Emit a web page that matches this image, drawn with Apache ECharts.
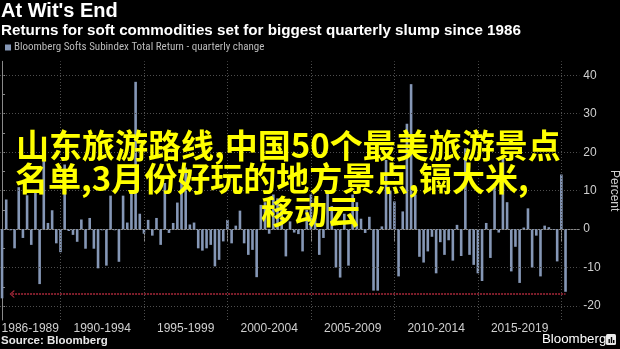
<!DOCTYPE html>
<html><head><meta charset="utf-8">
<script src="https://cdn.jsdelivr.net/npm/echarts@6/dist/echarts.min.js"></script>
<style>html,body{margin:0;padding:0;background:#000;}#c{width:620px;height:349px;}</style>
</head><body><div id="c"></div>
<script>
const titleText = "At Wit's End";
const subtitleText = "Returns for soft commodities set for biggest quarterly slump since 1986";
const seriesName = "Bloomberg Softs Subindex Total Return - quarterly change";
const sourceText = "Source: Bloomberg";
const firstYear = 1986, firstQ = 2;
const quarterlyChange = [
 -18.0, 7.7, -0.3, -5.0, 10.9, -2.3, 8.8, -4.1, 9.6, -14.3,
 20.6, 1.6, 4.9, -3.7, -6.0, 16.8, -0.5, -1.5, -3.3, 2.5,
 -5.1, 2.9, -5.1, -10.2, -0.3, -9.5, 8.7, -0.3, -8.5, 8.7,
 1.7, 10.0, 38.3, 4.0, -1.2, 2.4, -1.7, 2.9, -4.1, 12.0,
 -1.0, 1.6, 6.9, 14.0, 16.0, 1.2, 1.7, -5.0, -5.6, -5.0,
 -4.1, -9.7, -8.0, -3.2, 2.4, -3.7, 0.9, 4.8, -3.7, -6.7,
 -5.4, -12.5, 6.3, 7.0, -1.2, 9.0, 8.0, 6.0, -7.1, 2.0,
 -0.9, -1.3, -5.8, 5.0, 9.0, 8.0, -6.7, -2.3, 10.0, 6.0,
 -10.0, -12.6, 4.0, -9.5, 9.0, 7.0, 2.7, -1.0, 3.2, -16.0,
 -16.0, 0.7, 18.0, 10.0, 7.2, -12.3, 4.6, 27.4, 37.7, 9.0,
 -7.2, -8.7, -5.8, -2.0, -11.5, -3.4, -6.7, -2.9, -8.2, 1.1,
 -7.0, 21.0, -6.7, -9.3, -11.5, -13.5, 1.6, -7.5, 11.0, -0.9,
 18.7, 7.0, -11.0, -4.6, -14.0, 0.4, 5.4, -10.0, -1.7, -12.3,
 0.9, 0.5, -0.2, -8.4, 14.2, -16.3
];
const periodLabels = ['1986-1989','1990-1994','1995-1999','2000-2004','2005-2009','2010-2014','2015-2019'];
const yLabelValues = [-20,-10,0,10,20,30,40];
const yTickValues = [-20,-15,-10,-5,0,5,10,15,20,25,30,35,40];
const slumpLevel = -16.9;
const overlayLines = ["山东旅游路线,中国50个最美旅游景点", "名单,3月份好玩的地方景点,镉大米,", "移动云"];

// quarter names derived from start quarter
const quarters = quarterlyChange.map((v,i)=>{
  const n = (firstQ-1)+i; return (firstYear+Math.floor(n/4))+' Q'+((n%4)+1);
});
const xMin = -0.49, xMax = 138.3;
const yMin = -23.64, yMax = 43.64;
const boundaries = periodLabels.map(p => quarters.indexOf(p.split('-')[1]+' Q4'));
const labelPos = boundaries.map((b,i)=> ((i===0? xMin : boundaries[i-1]) + b)/2);

const FONT = '"Liberation Sans", Arial, sans-serif';
const gridColor = '#4e4e4e';
const gridLines = [];
boundaries.forEach(b => gridLines.push({xAxis: b}));
yLabelValues.forEach(v => gridLines.push({yAxis: v}));

const chart = echarts.init(document.getElementById('c'), null, {renderer:'canvas'});
chart.setOption({
  backgroundColor: '#000',
  animation: false,
  title: {
    text: titleText, subtext: subtitleText, left: 0, top: 0, padding: [1,0,0,1], itemGap: 2,
    textStyle: {color:'#fff', fontSize: 20, fontWeight:'bold', fontFamily: FONT},
    subtextStyle: {color:'#fff', fontSize: 15.2, fontWeight:'bold', fontFamily: FONT}
  },
  legend: {
    left: 5, top: 42, padding: 0, icon: 'rect', itemWidth: 6, itemHeight: 6, itemGap: 4,
    textStyle: {color:'#bbb', fontSize: 11, fontFamily: '"Liberation Sans Narrow", "Roboto Condensed", ' + FONT, padding:[0,0,0,-2]},
    data: [seriesName]
  },
  grid: {left: 0, right: 40.7, top: 61.3, bottom: 29, containLabel: false, outerBoundsMode: 'none'},
  xAxis: {
    type: 'value', min: xMin, max: xMax,
    axisLine: {show: true, lineStyle: {color:'#8a8a8a', width: 1}},
    axisTick: {show: true, customValues: boundaries, length: 13, lineStyle: {color:'#8a8a8a'}},
    axisLabel: {customValues: labelPos, margin: 3, color:'#cfcfcf', fontSize: 12, fontFamily: FONT,
      formatter: v => { const i = labelPos.findIndex(p => Math.abs(p - v) < 0.01); return i >= 0 ? periodLabels[i] : ''; }},
    splitLine: {show: false}
  },
  yAxis: {
    type: 'value', position: 'right', min: yMin, max: yMax,
    axisLine: {show: true, lineStyle: {color:'#8a8a8a', width: 1}},
    axisTick: {show: true, customValues: yTickValues, length: 3, lineStyle: {color:'#8a8a8a'}},
    axisLabel: {customValues: yLabelValues, margin: 4, color:'#cfcfcf', fontSize: 12, fontFamily: FONT},
    splitLine: {show: false},
    name: 'Percent', nameLocation: 'middle', nameRotate: -90, nameGap: 29, nameMoveOverlap: false,
    nameTextStyle: {color:'#cfcfcf', fontSize: 12, fontFamily: FONT}
  },
  series: [
    {
      type: 'line', name: 'grid', data: [], z: 1, silent: true,
      markLine: {
        silent: true, symbol: 'none', label: {show: false}, animation: false,
        lineStyle: {type: [1,2], color: gridColor, width: 1},
        data: gridLines
      }
    },
    {
      type: 'bar', name: seriesName, z: 2,
      data: quarterlyChange.map((v,i)=>[i, v]),
      barWidth: 2.6, itemStyle: {color: '#8597b6'},
      markLine: {
        silent: true, label: {show: false}, animation: false,
        data: [[
          {coord: [2.4, slumpLevel], symbol: 'path://M5,0 L10,9 L8.6,10 L5,3 L1.4,10 L0,9 Z', symbolSize: [8,5],
           lineStyle: {color: '#a8283a', type: [2,1], width: 1.5}},
          {coord: [quarterlyChange.length - 1, slumpLevel], symbol: 'none'}
        ]]
      }
    }
  ],
  graphic: [
    {type:'text', left: 1, top: 335, style: {text: sourceText, fill:'#e6e6e6', fontSize: 11.5, fontWeight:'bold', fontFamily: FONT}},
    {type:'text', left: 542, top: 333, style: {text: 'Bloomberg', fill:'#ffffff', fontSize: 13.3, fontFamily: FONT}},
    {type:'group', left: 606, top: 334, children: [
      {type:'rect', shape:{x:0,y:0,width:10,height:11,r:1.5}, style:{fill:'#e8e8e8'}},
      {type:'rect', shape:{x:2.5,y:5,width:1.4,height:4}, style:{fill:'#000'}},
      {type:'rect', shape:{x:4.8,y:3,width:1.4,height:6}, style:{fill:'#000'}},
      {type:'rect', shape:{x:7,y:6,width:1.4,height:3}, style:{fill:'#000'}}
    ]},
    {type:'text', x: 16, y: 145, z: 100, style: {text: overlayLines[0], fill:'#ffff00', fontSize: 33, fontWeight:'bold', fontFamily:'"Noto Sans CJK SC", sans-serif', verticalAlign:'middle'}},
    {type:'text', x: 15, y: 178, z: 100, style: {text: overlayLines[1], fill:'#ffff00', fontSize: 33, fontWeight:'bold', fontFamily:'"Noto Sans CJK SC", sans-serif', verticalAlign:'middle'}},
    {type:'text', x: 261, y: 211, z: 100, style: {text: overlayLines[2], fill:'#ffff00', fontSize: 33, fontWeight:'bold', fontFamily:'"Noto Sans CJK SC", sans-serif', verticalAlign:'middle'}}
  ]
});
</script></body></html>
